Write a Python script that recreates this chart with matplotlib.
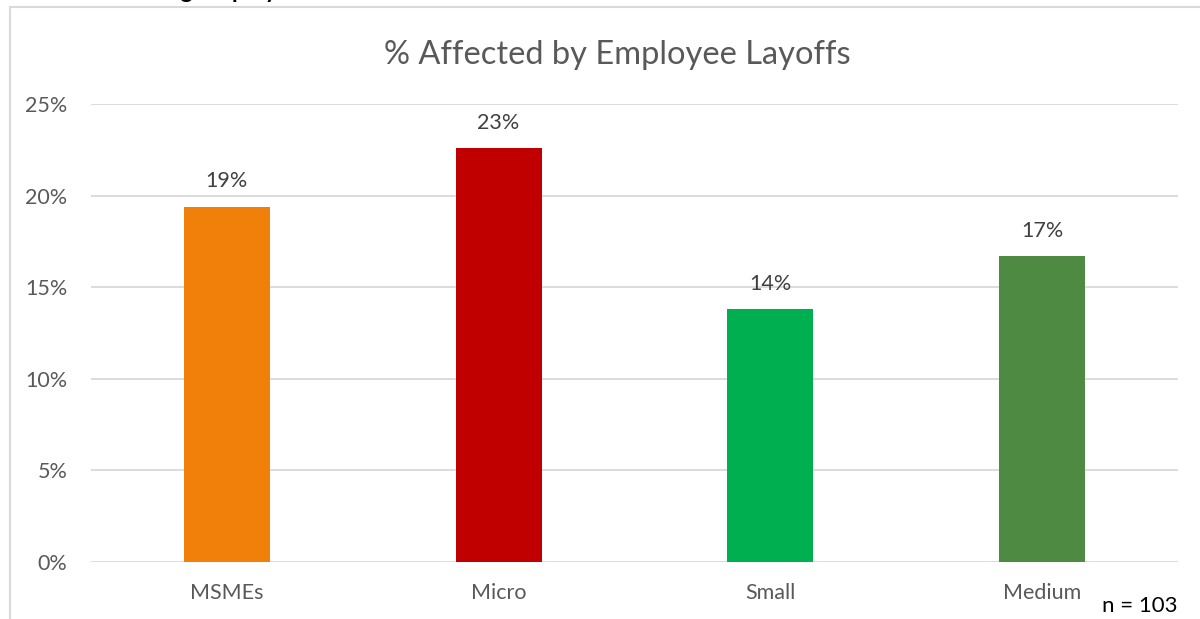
import matplotlib
matplotlib.use("Agg")
import matplotlib.pyplot as plt
from matplotlib.patches import Rectangle
from matplotlib.ticker import FuncFormatter

categories = ["MSMEs", "Micro", "Small", "Medium"]
affected_pct = [19.4, 22.6, 13.8, 16.7]
bar_labels = ["19%", "23%", "14%", "17%"]
bar_colors = ["#F0800A", "#C00000", "#00B050", "#4F8A43"]
y_ticks = [0, 5, 10, 15, 20, 25]

plt.rcParams["font.family"] = ["Lato", "DejaVu Sans"]

W, H = 1200, 619
fig = plt.figure(figsize=(W / 100, H / 100), dpi=100)
fig.patch.set_facecolor("white")

# chart frame
frame = Rectangle((10 / W, -0.05), 1.2, 1 - 7 / H + 0.05, transform=fig.transFigure,
                  fill=False, edgecolor="#D9D9D9", linewidth=1.5, zorder=0)
fig.patches.append(frame)

# heading above the frame, mostly cut off by the image edge
fig.text(95 / W, 1 + 2 / H, "Reducing Employees", fontsize=17, fontweight="bold",
         color="black", ha="left", va="baseline")

ax = fig.add_axes([91 / W, 1 - 562 / H, (1178 - 91) / W, (562 - 104) / H])
x = range(len(categories))
bars = ax.bar(x, affected_pct, width=0.316, color=bar_colors, zorder=3)

for rect, lab in zip(bars, bar_labels):
    ax.annotate(lab, (rect.get_x() + rect.get_width() / 2, rect.get_height()),
                xytext=(0, 11), textcoords="offset points", ha="center", va="bottom",
                fontsize=15.5, color="#404040")

ax.set_xlim(-0.5, len(categories) - 0.5)
ax.set_ylim(0, 25)
ax.set_yticks(y_ticks)
ax.yaxis.set_major_formatter(FuncFormatter(lambda v, p: f"{v:.0f}%"))
ax.set_xticks(list(x))
ax.set_xticklabels(categories)
ax.grid(axis="y", color="#D9D9D9", linewidth=1.3, zorder=0)
ax.set_axisbelow(True)
for s in ax.spines.values():
    s.set_visible(False)
ax.tick_params(axis="both", length=0, labelsize=15.5, labelcolor="#595959")
ax.tick_params(axis="y", pad=17)
ax.tick_params(axis="x", pad=15)

fig.text(617 / W, 1 - 55 / H, "% Affected by Employee Layoffs",
         fontsize=23.5, color="#595959", ha="center", va="center")

fig.text(1178 / W, 1 - 606 / H, "n = 103", fontsize=16, color="black",
         ha="right", va="center")

fig.savefig("out.png", dpi=100)
